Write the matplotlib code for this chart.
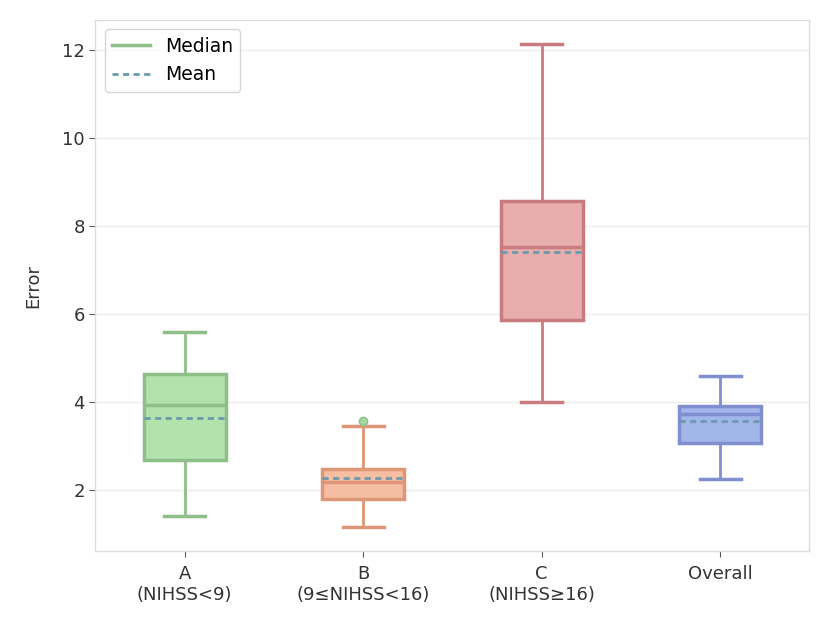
import numpy as np
import matplotlib
matplotlib.use("Agg")
from matplotlib import pyplot as plt
from matplotlib.lines import Line2D

# values
groups = ['A\n(NIHSS<9)', 'B\n(9≤NIHSS<16)', 'C\n(NIHSS≥16)', 'Overall']
q1 = [2.68, 1.80, 5.86, 3.07]
medians = [3.93, 2.18, 7.52, 3.73]
q3 = [4.64, 2.48, 8.57, 3.91]
means = [3.64, 2.27, 7.41, 3.57]
whis_lo = [1.41, 1.16, 4.00, 2.25]
whis_hi = [5.59, 3.45, 12.14, 4.59]
fliers = [[], [3.57], [], []]

face_colors = ['#b3e3ad', '#f5bda1', '#e8aeae', '#a3b6ea']
edge_colors = ['#8fbf88', '#de9677', '#c97c7e', '#7f8fd0']
mean_color = '#6a9aae'
dash = (0, (2.2, 1.6))

stats = []
for i in range(len(groups)):
    stats.append({'med': medians[i], 'q1': q1[i], 'q3': q3[i],
                  'whislo': whis_lo[i], 'whishi': whis_hi[i],
                  'mean': means[i], 'fliers': fliers[i], 'label': groups[i]})

plt.rcParams['font.family'] = ['DejaVu Sans']
fig, ax = plt.subplots(figsize=(8.3, 6.23), dpi=100)
fig.subplots_adjust(left=0.115, right=0.975, top=0.968, bottom=0.115)

pos = np.arange(1, len(groups) + 1)
bp = ax.bxp(stats, positions=pos, widths=0.46, patch_artist=True,
            showmeans=True, meanline=True)

for i in range(len(groups)):
    bp['boxes'][i].set_facecolor(face_colors[i])
    bp['boxes'][i].set_edgecolor(edge_colors[i])
    bp['boxes'][i].set_linewidth(2.5)
    bp['medians'][i].set_color(edge_colors[i])
    bp['medians'][i].set_linewidth(2.5)
    bp['means'][i].set_color(mean_color)
    bp['means'][i].set_linestyle(dash)
    bp['means'][i].set_linewidth(2)
    for w in bp['whiskers'][2*i:2*i+2]:
        w.set_color(edge_colors[i])
        w.set_linewidth(2)
    for c in bp['caps'][2*i:2*i+2]:
        c.set_color(edge_colors[i])
        c.set_linewidth(2.5)
    bp['fliers'][i].set_marker('o')
    bp['fliers'][i].set_markerfacecolor('#a6d99e')
    bp['fliers'][i].set_markeredgecolor('#8fbf88')
    bp['fliers'][i].set_markersize(6)

ax.set_xlim(0.5, 4.5)
ax.set_ylim(0.61, 12.68)
ax.set_yticks([2, 4, 6, 8, 10, 12])
ax.set_ylabel('Error', fontsize=13, color='#333333', labelpad=14)
ax.tick_params(labelsize=13, colors='#333333', length=4, color='#555555')
ax.tick_params(axis='x', pad=6)
ax.yaxis.grid(True, color='#ececec', linewidth=1)
ax.set_axisbelow(True)
for s in ax.spines.values():
    s.set_color('#dddddd')
    s.set_linewidth(1)

handles = [Line2D([], [], color='#8fbf88', linewidth=2.5),
           Line2D([], [], color=mean_color, linewidth=2, linestyle=dash)]
leg = ax.legend(handles, ['Median', 'Mean'], loc='upper left', fontsize=13.5,
                frameon=True, fancybox=True, edgecolor='#cccccc')

fig.savefig('out.png', dpi=100)
